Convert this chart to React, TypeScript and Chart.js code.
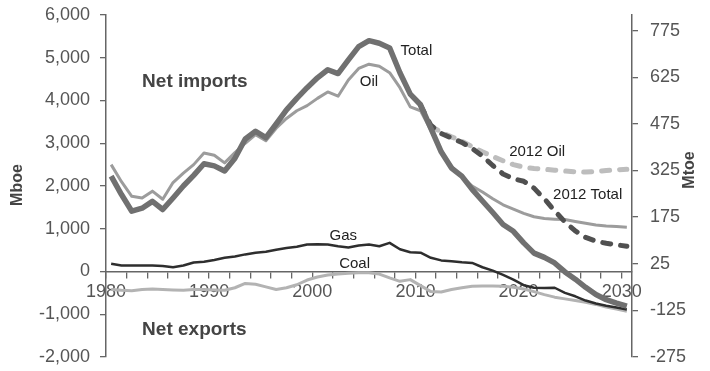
import React, { useEffect, useRef } from 'react';
import { Chart, registerables } from 'chart.js';

Chart.register(...registerables);

const years = [
  1980, 1981, 1982, 1983, 1984, 1985, 1986, 1987, 1988, 1989,
  1990, 1991, 1992, 1993, 1994, 1995, 1996, 1997, 1998, 1999,
  2000, 2001, 2002, 2003, 2004, 2005, 2006, 2007, 2008, 2009,
  2010, 2011, 2012, 2013, 2014, 2015, 2016, 2017, 2018, 2019,
  2020, 2021, 2022, 2023, 2024, 2025, 2026, 2027, 2028, 2029, 2030,
];

const totalValues = [
  2230, 1800, 1410, 1480, 1640, 1450, 1720, 2000, 2250, 2520,
  2470, 2350, 2650, 3100, 3280, 3130, 3450, 3780, 4050, 4300,
  4530, 4720, 4630, 4950, 5260, 5400, 5340, 5230, 4650, 4150,
  3900, 3350, 2800, 2420, 2230, 1920, 1650, 1380, 1100, 940,
  670, 430, 330, 200, -10, -180, -370, -540, -660, -740, -810,
];

const oilValues = [
  2500, 2100, 1760, 1720, 1880, 1690, 2080, 2300, 2500, 2770,
  2720, 2540, 2780, 3000, 3200, 3060, 3350, 3580, 3760, 3880,
  4050, 4200, 4100, 4480, 4750, 4850, 4800, 4650, 4300, 3850,
  3760, 3300, 2800, 2460, 2220, 2000, 1860, 1700, 1560, 1460,
  1360, 1280, 1240, 1225, 1215, 1170, 1130, 1090, 1065, 1050, 1035,
];

const gasValues = [
  180, 140, 140, 140, 140, 130, 100, 140, 210, 230,
  270, 320, 350, 400, 440, 460, 510, 550, 580, 630,
  635, 630, 590, 560, 610, 630, 590, 670, 520, 450,
  440, 320, 260, 240, 215, 200, 100, 20, -80, -190,
  -320, -380, -385, -380, -500, -580, -680, -750, -800, -840, -890,
];

const coalValues = [
  -420, -440, -450, -420, -410, -420, -430, -440, -420, -420,
  -430, -440, -380, -280, -300, -360, -420, -380, -310, -200,
  -130, -80, -60, -40, -30, -30, -60, -150, -230, -190,
  -330, -470, -480, -420, -380, -345, -340, -340, -345, -370,
  -410, -470, -540, -600, -640, -680, -720, -770, -830, -880, -930,
];

const outlookTotalYears = [
  2010, 2011, 2012, 2013, 2014, 2015, 2016, 2017, 2018, 2019, 2020,
  2021, 2022, 2023, 2024, 2025, 2026, 2027, 2028, 2029, 2030,
];
const outlookTotalValues = [
  3880, 3420, 3230, 3120, 3020, 2880, 2700, 2480, 2280, 2170, 2110,
  1950, 1700, 1420, 1160, 950, 800, 710, 660, 625, 590,
];

const outlookOilYears = [
  2011, 2012, 2013, 2014, 2015, 2016, 2017, 2018, 2019, 2020,
  2021, 2022, 2023, 2024, 2025, 2026, 2027, 2028, 2029, 2030,
];
const outlookOilValues = [
  3400, 3260, 3150, 3050, 2920, 2800, 2690, 2590, 2500, 2440,
  2410, 2390, 2370, 2350, 2330, 2325, 2340, 2360, 2380, 2390,
];

const xTickValues = [
  1979.5, 1981.5, 1983.5, 1985.5, 1987.5, 1989.5, 1991.5, 1993.5, 1995.5, 1997.5,
  1999.5, 2001.5, 2003.5, 2005.5, 2007.5, 2009.5, 2011.5, 2013.5, 2015.5, 2017.5,
  2019.5, 2021.5, 2023.5, 2025.5, 2027.5, 2029.5,
];
const xLabelYears = [1980, 1990, 2000, 2010, 2020, 2030];
const mtoeTicks = [-275, -125, 25, 175, 325, 475, 625, 775];

const FONT = "'Liberation Sans', Arial, Helvetica, sans-serif";

const pts = (xs: number[], ys: number[]) => xs.map((x, i) => ({ x, y: ys[i] }));

const textPlugin = {
  id: 'texts',
  afterDraw(chart: any) {
    const ctx = chart.ctx;
    const xs = chart.scales.x;
    const ys = chart.scales.y;
    const px = (v: number) => xs.getPixelForValue(v);
    const py = (v: number) => ys.getPixelForValue(v);
    ctx.save();
    ctx.textBaseline = 'middle';
    ctx.fillStyle = '#444';
    ctx.font = `bold 19px ${FONT}`;
    ctx.textAlign = 'left';
    ctx.fillText('Net imports', px(1983), py(4445));
    ctx.fillText('Net exports', px(1983), py(-1357));
    ctx.fillStyle = '#222';
    ctx.font = `15px ${FONT}`;
    ctx.textAlign = 'center';
    ctx.fillText('Total', px(2009.6), py(5170));
    ctx.fillText('Oil', px(2005), py(4433));
    ctx.fillText('Gas', px(2002.5), py(842));
    ctx.fillText('Coal', px(2003.6), py(187));
    ctx.fillText('2012 Oil', px(2021.3), py(2807));
    ctx.fillText('2012 Total', px(2026.2), py(1800));
    ctx.fillStyle = '#444';
    ctx.font = `bold 16px ${FONT}`;
    ctx.save();
    ctx.translate(18, 185);
    ctx.rotate(-Math.PI / 2);
    ctx.fillText('Mboe', 0, 0);
    ctx.restore();
    ctx.save();
    ctx.translate(690, 170);
    ctx.rotate(-Math.PI / 2);
    ctx.fillText('Mtoe', 0, 0);
    ctx.restore();
    ctx.restore();
  },
};

export default function App() {
  const ref = useRef<HTMLCanvasElement>(null);
  useEffect(() => {
    if (!ref.current) return;
    const axisColor = '#666';
    const tickFont = { family: FONT, size: 18 };
    const chart = new Chart(ref.current, {
      type: 'line',
      data: {
        datasets: [
          {
            label: 'Total',
            data: pts(years, totalValues),
            borderColor: '#707070',
            borderWidth: 5.5,
            order: 0,
          },
          {
            label: '2012 Total',
            data: pts(outlookTotalYears, outlookTotalValues),
            borderColor: '#505050',
            borderWidth: 5,
            borderDash: [8, 10],
            borderCapStyle: 'round',
            order: 1,
          },
          {
            label: 'Gas',
            data: pts(years, gasValues),
            borderColor: '#2e2e2e',
            borderWidth: 2.5,
            order: 2,
          },
          {
            label: 'Oil',
            data: pts(years, oilValues),
            borderColor: '#9c9c9c',
            borderWidth: 3,
            order: 3,
          },
          {
            label: '2012 Oil',
            data: pts(outlookOilYears, outlookOilValues),
            borderColor: '#bdbdbd',
            borderWidth: 5,
            borderDash: [8, 10],
            borderCapStyle: 'round',
            order: 4,
          },
          {
            label: 'Coal',
            data: pts(years, coalValues),
            borderColor: '#b3b3b3',
            borderWidth: 3,
            order: 5,
          },
        ] as any,
      },
      options: {
        animation: false,
        responsive: false,
        maintainAspectRatio: false,
        events: [],
        layout: { padding: { top: 15, bottom: 14, left: 0, right: 0 } },
        elements: {
          point: { radius: 0 },
          line: { tension: 0, borderJoinStyle: 'round' },
        },
        plugins: {
          legend: { display: false },
          tooltip: { enabled: false },
        },
        scales: {
          x: {
            type: 'linear',
            position: { y: 0 } as any,
            min: 1979.5,
            max: 2030.5,
            afterBuildTicks: (scale: any) => {
              scale.ticks = xTickValues.map((v) => ({ value: v }));
            },
            ticks: {
              autoSkip: false,
              maxRotation: 0,
              minRotation: 0,
              padding: 4,
              color: '#555',
              font: tickFont,
              callback: (v: any) => {
                const yr = Number(v) + 0.5;
                return xLabelYears.includes(yr) ? String(yr) : '';
              },
            },
            grid: {
              drawOnChartArea: false,
              drawTicks: true,
              tickLength: 6,
              color: axisColor,
              lineWidth: 1.3,
            },
            border: { display: true, color: axisColor, width: 1.5 },
          },
          y: {
            type: 'linear',
            position: 'left',
            min: -2000,
            max: 6000,
            ticks: {
              stepSize: 1000,
              padding: 10,
              color: '#555',
              font: tickFont,
            },
            grid: {
              drawOnChartArea: false,
              drawTicks: true,
              tickLength: 6,
              color: axisColor,
              lineWidth: 1.3,
            },
            border: { display: true, color: axisColor, width: 1.5 },
            afterFit: (scale: any) => {
              scale.width = 106;
              scale.paddingTop = 0;
              scale.paddingBottom = 0;
            },
          },
          y2: {
            type: 'linear',
            position: 'right',
            min: -275,
            max: 825,
            afterBuildTicks: (scale: any) => {
              scale.ticks = mtoeTicks.map((v) => ({ value: v }));
            },
            ticks: {
              padding: 12,
              color: '#555',
              font: tickFont,
              callback: (v: any) => String(v),
            },
            grid: {
              drawOnChartArea: false,
              drawTicks: true,
              tickLength: 6,
              color: axisColor,
              lineWidth: 1.3,
            },
            border: { display: true, color: axisColor, width: 1.5 },
            afterFit: (scale: any) => {
              scale.width = 78;
              scale.paddingTop = 0;
              scale.paddingBottom = 0;
            },
          },
        },
      } as any,
      plugins: [textPlugin],
    });
    return () => chart.destroy();
  }, []);
  return (
    <div style={{ position: 'absolute', left: 0, top: 0, width: 710, height: 371, background: '#fff' }}>
      <canvas ref={ref} width={710} height={371} style={{ display: 'block', width: 710, height: 371 }} />
    </div>
  );
}
